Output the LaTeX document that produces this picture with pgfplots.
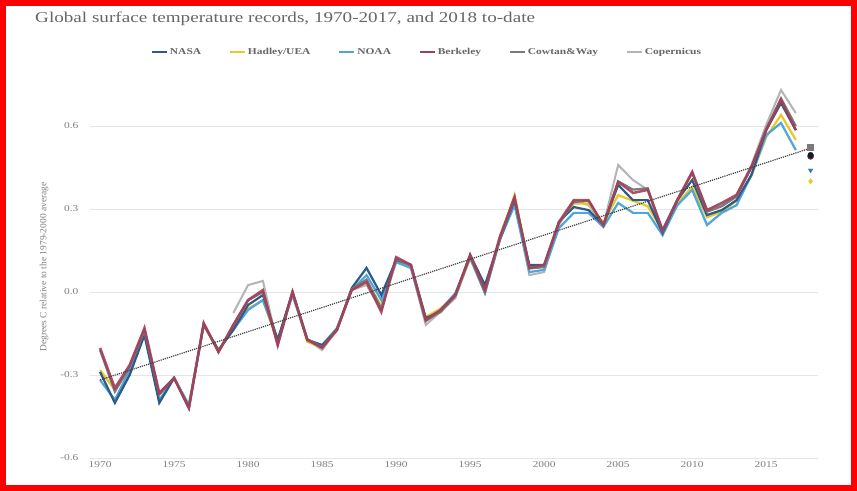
\documentclass[border=0pt]{standalone}
\usepackage{fontspec}
\setmainfont{Liberation Serif}
\usepackage{pgfplots}
\pgfplotsset{compat=1.18}
\usepackage{pgfplotstable}
\definecolor{nasa}{HTML}{2E5A87}
\definecolor{hadley}{HTML}{E8C92A}
\definecolor{noaa}{HTML}{4FA6DC}
\definecolor{berkeley}{HTML}{A53D58}
\definecolor{cowtan}{HTML}{7A7A7A}
\definecolor{copern}{HTML}{B4B4B4}
\definecolor{txtgray}{HTML}{666666}
\definecolor{ticgray}{HTML}{808080}
\newcommand{\sx}[1]{\scalebox{1.28}[1]{#1}}
\pgfplotstableread{
year nasa hadley noaa berkeley cowtan copern
1970 -0.289 -0.282 -0.318 -0.202 -0.210 nan
1971 -0.401 -0.354 -0.390 -0.347 -0.360 nan
1972 -0.300 -0.275 -0.282 -0.264 -0.270 nan
1973 -0.155 -0.137 -0.155 -0.130 -0.140 nan
1974 -0.401 -0.372 -0.390 -0.365 -0.370 nan
1975 -0.311 -0.311 -0.311 -0.311 -0.310 nan
1976 -0.419 -0.408 -0.408 -0.419 -0.420 nan
1977 -0.119 -0.119 -0.119 -0.112 -0.115 nan
1978 -0.210 -0.217 -0.210 -0.217 -0.215 nan
1979 -0.137 -0.130 -0.137 -0.119 -0.120 -0.076
1980 -0.047 -0.060 -0.065 -0.029 -0.030 0.025
1981 -0.011 -0.030 -0.029 0.007 0.000 0.040
1982 -0.173 -0.180 -0.173 -0.192 -0.190 -0.192
1983 0.000 -0.004 -0.011 0.000 0.000 -0.004
1984 -0.173 -0.180 -0.173 -0.173 -0.170 -0.173
1985 -0.192 -0.200 -0.192 -0.202 -0.200 -0.210
1986 -0.137 -0.140 -0.130 -0.137 -0.135 -0.137
1987 0.014 0.010 0.007 0.007 0.010 0.007
1988 0.087 0.040 0.061 0.036 0.045 0.025
1989 -0.011 -0.050 -0.029 -0.072 -0.060 -0.065
1990 0.116 0.115 0.108 0.126 0.120 0.108
1991 0.098 0.090 0.087 0.098 0.095 0.087
1992 -0.094 -0.090 -0.101 -0.101 -0.105 -0.119
1993 -0.072 -0.060 -0.065 -0.065 -0.070 -0.072
1994 -0.011 -0.010 -0.004 -0.011 -0.015 -0.022
1995 0.134 0.120 0.123 0.134 0.130 0.123
1996 0.025 0.010 -0.004 0.007 0.000 -0.004
1997 0.188 0.190 0.188 0.199 0.190 0.188
1998 0.332 0.350 0.314 0.343 0.340 0.332
1999 0.098 0.090 0.072 0.087 0.085 0.061
2000 0.098 0.090 0.080 0.098 0.090 0.072
2001 0.253 0.250 0.231 0.253 0.250 0.242
2002 0.307 0.320 0.286 0.332 0.325 0.332
2003 0.296 0.320 0.286 0.332 0.330 0.314
2004 0.242 0.250 0.235 0.242 0.240 0.242
2005 0.387 0.350 0.322 0.398 0.400 0.459
2006 0.332 0.330 0.286 0.358 0.370 0.405
2007 0.332 0.310 0.286 0.369 0.375 0.369
2008 0.213 0.220 0.206 0.224 0.220 0.206
2009 0.332 0.320 0.314 0.332 0.335 0.332
2010 0.405 0.380 0.369 0.434 0.430 0.434
2011 0.278 0.270 0.242 0.296 0.290 0.296
2012 0.296 0.290 0.286 0.322 0.310 0.314
2013 0.332 0.330 0.314 0.351 0.345 0.351
2014 0.423 0.420 0.423 0.452 0.450 0.459
2015 0.585 0.560 0.567 0.585 0.590 0.604
2016 0.683 0.640 0.611 0.694 0.700 0.730
2017 0.585 0.550 0.513 0.585 0.600 0.647
}\temps
\begin{document}
\begin{tikzpicture}[x=1bp,y=1bp]
\fill[white] (0,0) rectangle (857,491);
\node[anchor=base west, inner sep=0, text=txtgray, font=\fontsize{15}{17}\selectfont] at (35,468) {\sx{Global surface temperature records, 1970-2017, and 2018 to-date}};
\node[rotate=90, inner sep=0, text=ticgray, font=\fontsize{9.5}{11}\selectfont] at (44,224) {Degrees C relative to the 1979-2000 average};
\begin{axis}[
  at={(90bp,33bp)}, anchor=south west,
  scale only axis, width=728bp, height=373.5bp,
  xmin=1969.32, xmax=2018.5, ymin=-0.6, ymax=0.75,
  xtick={1970,1975,...,2015},
  ytick={-0.6,-0.3,0,0.3,0.6},
  /pgf/number format/1000 sep={},
  /pgf/number format/assume math mode=true,
  xticklabel={\sx{\pgfmathprintnumber{\tick}}},
  yticklabel={\sx{\pgfmathprintnumber[fixed,fixed zerofill,precision=1]{\tick}}},
  yticklabel style={text=ticgray, font=\fontsize{9}{10}\selectfont, xshift=-8bp},
  xticklabel style={text=ticgray, font=\fontsize{9}{10}\selectfont},
  axis line style={draw=none},
  major tick length=0pt,
  ymajorgrids, grid style={black!10, line width=0.7bp},
  clip=false,
  legend columns=6,
  legend style={draw=none, fill=none, at={(0.463,1.087)}, anchor=center,
    font=\bfseries\fontsize{9}{10}\selectfont, text=txtgray,
    /tikz/every even column/.append style={column sep=26bp}},
  legend image code/.code={\draw[#1, line width=1.8bp] (0bp,0bp) -- (15bp,0bp);},
]
\addlegendimage{nasa}\addlegendentry{\sx{NASA}}
\addlegendimage{hadley}\addlegendentry{\sx{Hadley/UEA}}
\addlegendimage{noaa}\addlegendentry{\sx{NOAA}}
\addlegendimage{berkeley}\addlegendentry{\sx{Berkeley}}
\addlegendimage{cowtan}\addlegendentry{\sx{Cowtan\&Way}}
\addlegendimage{copern}\addlegendentry{\sx{Copernicus}}
\addplot[forget plot, copern, line width=2bp] table[x=year, y=copern] {\temps};
\addplot[forget plot, hadley, line width=2.2bp] table[x=year, y=hadley] {\temps};
\addplot[forget plot, noaa, line width=2.2bp] table[x=year, y=noaa] {\temps};
\addplot[forget plot, nasa, line width=2.2bp] table[x=year, y=nasa] {\temps};
\addplot[forget plot, cowtan, line width=2.2bp] table[x=year, y=cowtan] {\temps};
\addplot[forget plot, berkeley, line width=2.5bp, opacity=0.9] table[x=year, y=berkeley] {\temps};
\addplot[forget plot, black!75, densely dotted, line width=1.2bp] coordinates {(1970,-0.318) (2018,0.52)};
\addplot[forget plot, only marks, mark=square*, mark size=3bp, cowtan] coordinates {(2018,0.524)};
\addplot[forget plot, only marks, mark=*, mark size=3bp, berkeley!60!black] coordinates {(2018,0.49)};
\addplot[forget plot, only marks, mark=*, mark size=2.8bp, black!70!nasa] coordinates {(2018,0.495)};
\addplot[forget plot, only marks, mark=triangle*, mark options={rotate=180}, mark size=2.6bp, nasa!60!noaa] coordinates {(2018,0.44)};
\addplot[forget plot, only marks, mark=diamond*, mark size=2.6bp, hadley] coordinates {(2018,0.40)};
\end{axis}
\draw[red, line width=6bp] (3,3) rectangle (854,488);
\end{tikzpicture}
\end{document}
